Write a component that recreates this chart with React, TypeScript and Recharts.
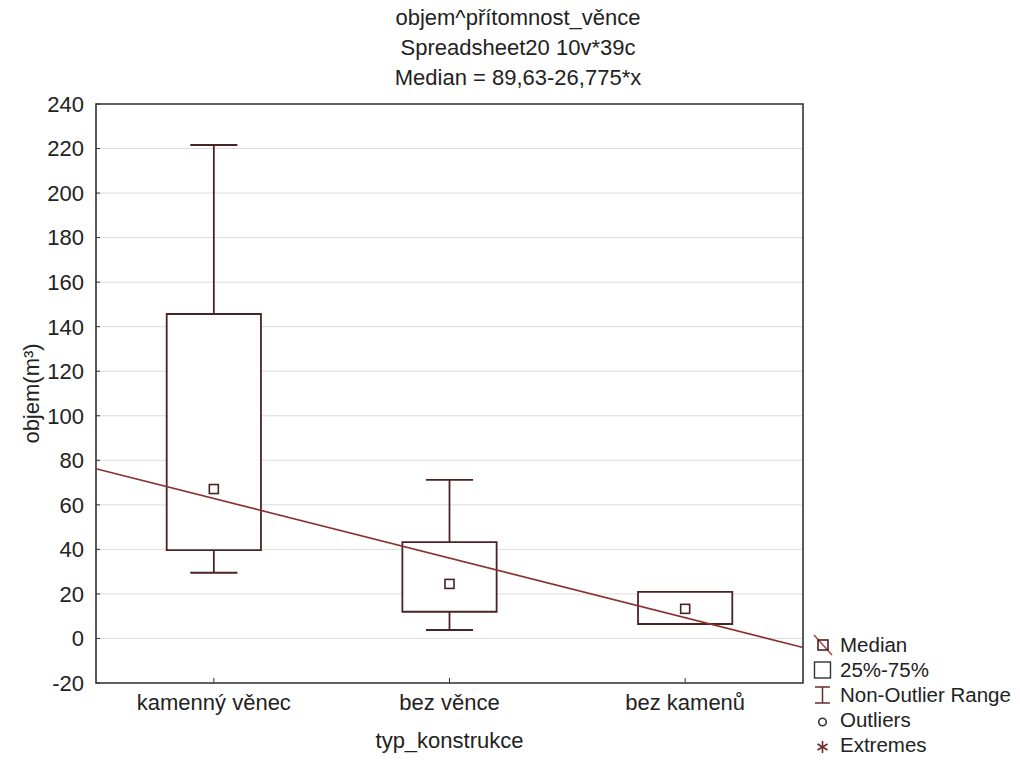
import React from "react";
import {
  ComposedChart,
  XAxis,
  YAxis,
  CartesianGrid,
  ReferenceArea,
  ReferenceLine,
  Scatter,
} from "recharts";

const categories = ["kamenný věnec", "bez věnce", "bez kamenů"];
const medians = [67.1, 24.5, 13.3];
const lowerQuartile = [39.7, 12.0, 6.5];
const upperQuartile = [145.7, 43.3, 20.9];
const whiskerLow = [29.5, 3.8, 6.5];
const whiskerHigh = [221.6, 71.2, 20.9];
const yTicks = [-20, 0, 20, 40, 60, 80, 100, 120, 140, 160, 180, 200, 220, 240];
const titleLines = [
  "objem^přítomnost_věnce",
  "Spreadsheet20 10v*39c",
  "Median = 89,63-26,775*x",
];
// fit from the title: Median = 89,63 - 26,775*x
const fitIntercept = 89.63;
const fitSlope = -26.775;

const FONT = "'Liberation Sans', Arial, sans-serif";
const FS = 22;
const BOX = "#4a2424";
const FIT = "#8a3232";
const TEXT = "#222222";

const medianData = categories.map((c, i) => ({ x: i + 1, y: medians[i], name: c }));
const xMin = 0.5;
const xMax = 3.5;

const MedianSquare = (props: any) => {
  const { cx, cy } = props;
  return (
    <rect x={cx - 4.5} y={cy - 4.5} width={9} height={9} fill="#fff" stroke={BOX} strokeWidth={1.6} />
  );
};

const legendRows = [
  { key: "median", label: "Median" },
  { key: "box", label: "25%-75%" },
  { key: "range", label: "Non-Outlier Range" },
  { key: "out", label: "Outliers" },
  { key: "ext", label: "Extremes" },
];

const LegendIcon = ({ kind }: { kind: string }) => {
  if (kind === "median")
    return (
      <svg width={20} height={22}>
        <line x1={1} y1={1} x2={19} y2={21} stroke="#b04040" strokeWidth={1.5} />
        <rect x={5} y={6} width={10} height={10} fill="none" stroke={BOX} strokeWidth={1.6} />
      </svg>
    );
  if (kind === "box")
    return (
      <svg width={20} height={22}>
        <rect x={1.5} y={3} width={16} height={16} fill="#fff" stroke="#333" strokeWidth={1.4} />
      </svg>
    );
  if (kind === "range")
    return (
      <svg width={20} height={22}>
        <line x1={2} y1={3} x2={17} y2={3} stroke="#6b2a2a" strokeWidth={1.5} />
        <line x1={9.5} y1={3} x2={9.5} y2={19} stroke="#6b2a2a" strokeWidth={1.5} />
        <line x1={2} y1={19} x2={17} y2={19} stroke="#6b2a2a" strokeWidth={1.5} />
      </svg>
    );
  if (kind === "out")
    return (
      <svg width={20} height={22}>
        <circle cx={9.5} cy={13} r={3.8} fill="none" stroke="#333" strokeWidth={1.6} />
      </svg>
    );
  return (
    <svg width={20} height={22}>
      <g stroke="#6b2a2a" strokeWidth={1.6}>
        <line x1={9.5} y1={7} x2={9.5} y2={19} />
        <line x1={4.5} y1={10} x2={14.5} y2={16} />
        <line x1={4.5} y1={16} x2={14.5} y2={10} />
      </g>
    </svg>
  );
};

export default function App() {
  return (
    <div
      style={{
        position: "absolute",
        left: 0,
        top: 0,
        width: 1020,
        height: 762,
        background: "#fff",
        fontFamily: FONT,
        color: TEXT,
        overflow: "hidden",
      }}
    >
      <div
        style={{
          position: "absolute",
          left: 318,
          width: 400,
          top: 3,
          textAlign: "center",
          fontSize: FS,
          lineHeight: "30px",
        }}
      >
        {titleLines.map((t) => (
          <div key={t}>{t}</div>
        ))}
      </div>

      <ComposedChart
        width={1020}
        height={762}
        margin={{ top: 104, right: 0, bottom: 0, left: 0 }}
        style={{ fontFamily: FONT }}
      >
        <CartesianGrid vertical={false} stroke="#dcdcdc" />
        <XAxis
          type="number"
          dataKey="x"
          domain={[xMin, xMax]}
          ticks={[1, 2, 3]}
          allowDataOverflow
          tickFormatter={(v: number) => categories[v - 1]}
          axisLine={false}
          tickLine={{ stroke: "#333" }}
          tickSize={-5}
          tickMargin={16}
          height={79}
          tick={{ fill: TEXT, fontSize: FS }}
          label={{
            value: "typ_konstrukce",
            position: "insideBottom",
            offset: 14,
            fill: TEXT,
            fontSize: FS,
          }}
        />
        <YAxis
          type="number"
          domain={[-20, 240]}
          ticks={yTicks}
          allowDataOverflow
          width={96}
          axisLine={false}
          tickLine={{ stroke: "#333" }}
          tickSize={-4}
          tickMargin={16}
          tick={{ fill: TEXT, fontSize: FS }}
          label={{
            value: "objem(m³)",
            angle: -90,
            position: "insideLeft",
            offset: 31,
            fill: TEXT,
            fontSize: FS,
            style: { textAnchor: "middle" },
          }}
        />
        <YAxis
          yAxisId="right"
          orientation="right"
          type="number"
          domain={[-20, 240]}
          ticks={yTicks}
          width={217}
          axisLine={false}
          tickLine={{ stroke: "#333" }}
          tickSize={-5}
          tick={false}
        />

        {categories.map((c, i) => (
          <ReferenceArea
            key={"box" + c}
            x1={i + 1 - 0.2}
            x2={i + 1 + 0.2}
            y1={lowerQuartile[i]}
            y2={upperQuartile[i]}
            fill="#fff"
            fillOpacity={1}
            stroke={BOX}
            strokeWidth={1.8}
          />
        ))}

        {categories.map((c, i) =>
          whiskerHigh[i] > upperQuartile[i] ? (
            <ReferenceLine
              key={"wh" + c}
              segment={[
                { x: i + 1, y: upperQuartile[i] },
                { x: i + 1, y: whiskerHigh[i] },
              ]}
              stroke={BOX}
              strokeWidth={1.8}
            />
          ) : null
        )}
        {categories.map((c, i) =>
          whiskerHigh[i] > upperQuartile[i] ? (
            <ReferenceLine
              key={"whc" + c}
              segment={[
                { x: i + 1 - 0.1, y: whiskerHigh[i] },
                { x: i + 1 + 0.1, y: whiskerHigh[i] },
              ]}
              stroke={BOX}
              strokeWidth={1.8}
            />
          ) : null
        )}
        {categories.map((c, i) =>
          whiskerLow[i] < lowerQuartile[i] ? (
            <ReferenceLine
              key={"wl" + c}
              segment={[
                { x: i + 1, y: lowerQuartile[i] },
                { x: i + 1, y: whiskerLow[i] },
              ]}
              stroke={BOX}
              strokeWidth={1.8}
            />
          ) : null
        )}
        {categories.map((c, i) =>
          whiskerLow[i] < lowerQuartile[i] ? (
            <ReferenceLine
              key={"wlc" + c}
              segment={[
                { x: i + 1 - 0.1, y: whiskerLow[i] },
                { x: i + 1 + 0.1, y: whiskerLow[i] },
              ]}
              stroke={BOX}
              strokeWidth={1.8}
            />
          ) : null
        )}

        <ReferenceLine
          segment={[
            { x: xMin, y: fitIntercept + fitSlope * xMin },
            { x: xMax, y: fitIntercept + fitSlope * xMax },
          ]}
          stroke={FIT}
          strokeWidth={1.6}
        />

        <Scatter data={medianData} dataKey="y" shape={<MedianSquare />} isAnimationActive={false} />

        <ReferenceArea
          x1={xMin}
          x2={xMax}
          y1={-20}
          y2={240}
          fill="none"
          fillOpacity={0}
          stroke="#333"
          strokeWidth={1.6}
        />
      </ComposedChart>

      <div
        style={{
          position: "absolute",
          left: 813,
          top: 632,
          width: 207,
          fontSize: 20.5,
          whiteSpace: "nowrap",
          lineHeight: "25px",
        }}
      >
        {legendRows.map((r) => (
          <div key={r.key} style={{ display: "flex", alignItems: "center", height: 25 }}>
            <div style={{ width: 27, flex: "0 0 27px", display: "flex", alignItems: "center" }}>
              <LegendIcon kind={r.key} />
            </div>
            <span style={{ whiteSpace: "nowrap" }}>{r.label}</span>
          </div>
        ))}
      </div>
    </div>
  );
}
